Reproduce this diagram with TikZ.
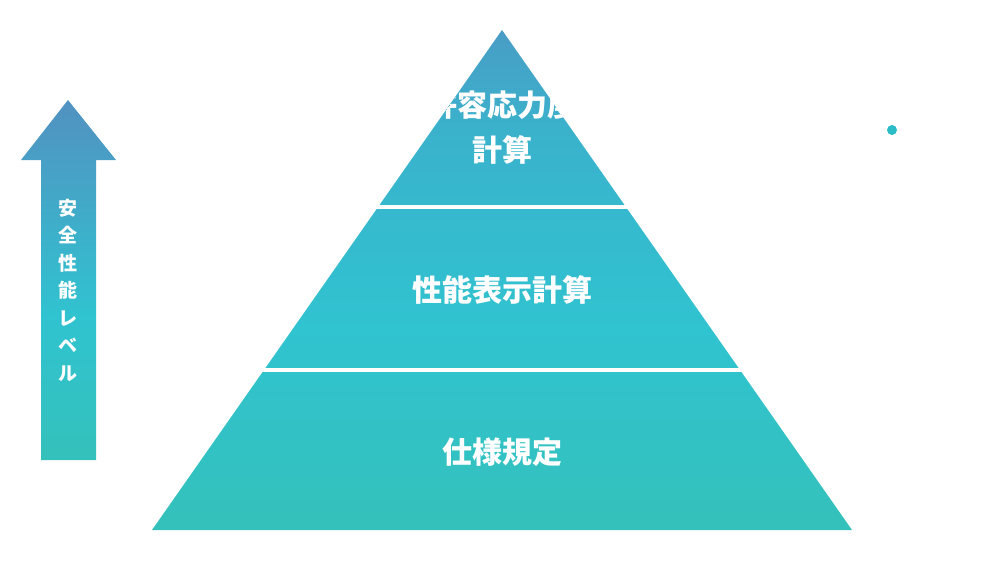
\documentclass[tikz,border=0pt]{standalone}
\usepackage{fontspec}
\newfontfamily\jpfont{Noto Sans CJK JP}
\definecolor{ppurple}{HTML}{6E68B5}
\definecolor{pblue}{HTML}{3AB2CC}
\definecolor{pcyan}{HTML}{30C3D0}
\definecolor{pgreen}{HTML}{3ABFA0}
\pgfdeclareverticalshading{pyrshade}{100bp}{color(0bp)=(pgreen); color(45bp)=(pcyan); color(65bp)=(pblue); color(100bp)=(ppurple)}
\pgfdeclareverticalshading{arrowshade}{100bp}{color(0bp)=(pgreen); color(45bp)=(pcyan); color(100bp)=(ppurple)}
\tikzset{lvl/.style={text=white,font=\jpfont\bfseries\fontsize{30}{34}\selectfont}}

\begin{document}
\begin{tikzpicture}[x=1pt,y=-1pt]
\useasboundingbox (0,0) rectangle (1000,560);
\coordinate (top) at (502,30);
\coordinate (bl) at (152,530);
\coordinate (br) at (852,530);
\shade[shading=pyrshade] (top) -- (bl) -- (br) -- cycle;
\draw[white,line width=4pt] (0,207) -- (1000,207);
\draw[white,line width=4pt] (0,370) -- (1000,370);
\begin{scope}
\clip (top) -- (bl) -- (br) -- cycle;
\node[lvl] (l3a) at (502,105) {許容応力度};
\end{scope}
\node[lvl] (l3b) at (502,150) {計算};
\node[lvl] (l2) at (502,290) {性能表示計算};
\node[lvl] (l1) at (502,452) {仕様規定};
\fill[pcyan!90!teal] (892,130) circle[radius=5] coordinate (dot);
\shade[shading=arrowshade] (68,100) -- (116,160) -- (96,160) -- (96,460) -- (41,460) -- (41,160) -- (21,160) -- cycle;
\node[text=white,font=\jpfont\bfseries\fontsize{19}{27.5}\selectfont,align=center] (lv) at (68,290) {安\\全\\性\\能\\レ\\ベ\\ル};
\end{tikzpicture}
\end{document}
